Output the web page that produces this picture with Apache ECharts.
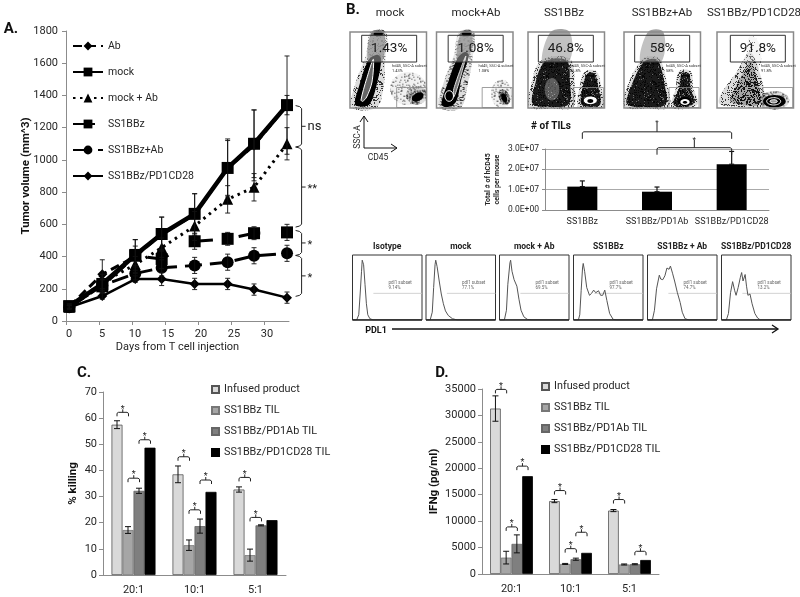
<!DOCTYPE html>
<html><head><meta charset="utf-8">
<style>html,body{margin:0;padding:0;background:#fff}#c{width:800px;height:597px}</style>
<script src="https://cdn.jsdelivr.net/npm/echarts@6/dist/echarts.min.js"></script>
</head><body><div id="c"></div>
<script>
// ---------- DATA ----------
const days = [0.5,5.5,10.5,14.5,19.5,24.5,28.5,33.5];
const volAb      = [90,290,400,540,660,950,1090,1340];
const errAb      = [10,90,105,105,130,180,220,60];
const volMock    = [92,230,410,540,665,950,1100,1340];
const errMock    = [15,60,95,105,125,170,210,305];
const volMockAb  = [85,240,350,455,590,755,830,1100];
const errMockAb  = [10,50,50,60,90,85,85,100];
const volBBz     = [90,215,405,385,495,510,545,550];
const errBBz     = [15,40,60,60,50,40,40,50];
const volBBzAb   = [85,220,295,330,345,365,405,420];
const errBBzAb   = [10,40,40,50,50,50,50,50];
const volCD28    = [85,155,260,260,230,230,195,145];
const errCD28    = [10,20,20,40,35,35,35,35];
const ratios = ['20:1','10:1','5:1'];
const barNames = ['Infused product','SS1BBz TIL','SS1BBz/PD1Ab TIL','SS1BBz/PD1CD28 TIL'];
const killInfused = [57.5,38.5,32.7], killInfusedErr = [1.5,3.2,1];
const killTil     = [17.2,11.4,7.6],  killTilErr     = [1.3,2,2.3];
const killAb      = [32.2,18.7,19],   killAbErr      = [1,2.7,0.2];
const killCD28    = [48.7,31.8,21],   killCD28Err    = [0,0,0];
const ifnInfused = [31300,13800,12000], ifnInfusedErr = [2400,300,200];
const ifnTil     = [3100,1900,1800],    ifnTilErr     = [1200,100,100];
const ifnAb      = [5700,2800,1850],    ifnAbErr      = [1700,200,100];
const ifnCD28    = [18500,4000,2650],   ifnCD28Err    = [0,0,0];
const tilCats = ['SS1BBz','SS1BBz/PD1Ab','SS1BBz/PD1CD28'];
const tilVals = [1.15e7,0.9e7,2.25e7];
const tilErrs = [0.28e7,0.23e7,0.63e7];
const flowTitles = ['mock','mock+Ab','SS1BBz','SS1BBz+Ab','SS1BBz/PD1CD28'];
const flowPct = ['1.43%','1.08%','46.8%','58%','91.8%'];
const histTitles = ['Isotype','mock','mock + Ab','SS1BBz','SS1BBz + Ab','SS1BBz/PD1CD28'];
const histPct = ['9.14%','77.1%','69.5%','97.7%','74.7%','13.2%'];
const histIso = [[0,0],[6,0],[9,8],[11,40],[13,75],[14,92],[16,85],[18,55],[20,25],[22,8],[25,2],[30,0],[100,0]];
const histMock = [[0,0],[6,0],[9,12],[11,50],[13,85],[14,92],[16,82],[19,60],[22,40],[25,25],[28,14],[32,7],[38,2],[45,0],[100,0]];
const histMockAb = [[0,0],[7,0],[10,15],[12,55],[15,88],[16,92],[18,75],[21,62],[25,52],[28,32],[31,15],[35,5],[40,1],[46,0],[100,0]];
const histBBz = [[0,0],[7,0],[9,8],[11,45],[13,80],[14,87],[16,75],[19,50],[23,38],[26,41],[29,46],[32,42],[34,41],[36,45],[39,38],[42,38],[45,46],[48,30],[52,10],[57,1],[62,0],[100,0]];
const histBBzAb = [[0,0],[7,0],[10,15],[13,48],[17,69],[19,63],[22,62],[25,68],[28,80],[30,82],[31,78],[33,83],[36,72],[39,60],[43,42],[47,27],[50,12],[54,2],[60,0],[100,0]];
const histCD28 = [[0,0],[7,0],[10,10],[13,42],[16,59],[19,45],[21,38],[24,50],[27,65],[29,73],[31,60],[34,70],[36,52],[38,38],[41,40],[44,25],[48,10],[52,3],[56,0],[100,0]];
const histGate = [[30,41],[100,41]];
// brackets: [category, fromBar, toBar, value of the feet]
const killBrackets = [[0,0,1,60.7],[0,1,2,35.5],[0,2,3,50.2],[1,0,1,43.7],[1,1,2,23.4],[1,2,3,34.8],[2,0,1,35.8],[2,1,2,20.5]];
const ifnBrackets = [[0,0,1,34170],[0,1,2,8150],[0,2,3,19650],[1,0,1,15030],[1,1,2,4040],[1,2,3,7140],[2,0,1,13330],[2,2,3,3540]];
const volBrackets = [[1337,1080,'ns'],[1080,583,'**'],[562,407,'*'],[407,153,'*']];
const tilBrackets = [[0,2,3.5e7],[1,2,2.72e7]];

// ---------- HELPERS ----------
const FF = 'Roboto';
const GREY = '#8c8c8c', INK = '#262626';
const plain = v => String(v);
const grid=[], xAxis=[], yAxis=[], series=[], graphic=[];
function addGrid(g,x,y){ grid.push(g); x.gridIndex=y.gridIndex=grid.length-1; xAxis.push(x); yAxis.push(y); return grid.length-1; }

function errSeries(gi,rows,bw,cap,w){
  series.push({type:'custom',xAxisIndex:gi,yAxisIndex:gi,silent:true,z:6,clip:false,data:rows,
    renderItem(p,api){
      const off=(api.value(1)-1.5)*(bw||0);
      const a=api.coord([api.value(0),api.value(2)]), b=api.coord([api.value(0),api.value(3)]);
      const x=a[0]+off, s={stroke:'#111',lineWidth:w||1,fill:null}, c=cap||3;
      return {type:'group',children:[
        {type:'line',shape:{x1:x,y1:a[1],x2:x,y2:b[1]},style:s},
        {type:'line',shape:{x1:x-c,y1:a[1],x2:x+c,y2:a[1]},style:s},
        {type:'line',shape:{x1:x-c,y1:b[1],x2:x+c,y2:b[1]},style:s}]};
    }});
}
function brace(x1,x2,y,h,starFs,stem){
  const m=(x1+x2)/2, st=stem||3;
  return [
   {type:'polyline',shape:{points:[[x1,y],[x1,y-h+1],[x1+1.5,y-h],[x2-1.5,y-h],[x2,y-h+1],[x2,y]]},style:{stroke:'#222',lineWidth:1,fill:null}},
   {type:'line',shape:{x1:m,y1:y-h,x2:m,y2:y-h-st},style:{stroke:'#222',lineWidth:1}},
   {type:'text',style:{text:'*',x:m,y:y-h-st,fill:'#222',font:(starFs||9)+'px '+FF,align:'center',verticalAlign:'middle'}}];
}
function bracketSeries(gi,rows,bw){
  series.push({type:'custom',xAxisIndex:gi,yAxisIndex:gi,silent:true,z:7,clip:false,data:rows,
    renderItem(p,api){
      const c=api.coord([api.value(0),api.value(3)]);
      return {type:'group',children:brace(c[0]+(api.value(1)-1.5)*bw,c[0]+(api.value(2)-1.5)*bw+0.5,c[1],4)};
    }});
}
function barPanel(left,top,w,h,ymax,step,yname,gap,bw,sets,errs,brs){
  const gi=addGrid({left,top,width:w,height:h},
   {type:'category',data:ratios,axisLine:{lineStyle:{color:GREY}},axisTick:{lineStyle:{color:GREY},length:4},axisLabel:{color:INK,fontFamily:FF,fontSize:11,margin:10}},
   {type:'value',min:0,max:ymax,interval:step,name:yname,nameLocation:'middle',nameGap:gap,nameMoveOverlap:false,nameTextStyle:{fontFamily:FF,fontWeight:'bold',fontSize:11.5,color:'#111'},
    splitLine:{show:false},axisLine:{show:true,lineStyle:{color:GREY}},axisTick:{show:true,lineStyle:{color:GREY},length:4},axisLabel:{color:INK,fontFamily:FF,fontSize:11,margin:6,formatter:plain}});
  const cols=['#d9d9d9','#a6a6a6','#7f7f7f','#000'], bord=['#555','#777','#666','#000'];
  sets.forEach((d,i)=>series.push({type:'bar',name:barNames[i],xAxisIndex:gi,yAxisIndex:gi,data:d,barWidth:bw,barGap:'0%',
    itemStyle:{color:cols[i],borderColor:bord[i],borderWidth:0.8}}));
  const rows=[];
  errs.forEach((e,i)=>e.forEach((v,c)=>{ if(v>0) rows.push([c,i,sets[i][c]-v,sets[i][c]+v]); }));
  errSeries(gi,rows,bw,3,1);
  bracketSeries(gi,brs,bw);
  return gi;
}
function T(x,y,text,fs,o){ o=o||{};
  graphic.push({type:'text',z:50,silent:true,rotation:o.rot||0,x,y,style:{text,x:0,y:0,fill:o.c||INK,font:(o.b?'bold ':'')+fs+'px '+FF,align:o.a||'center',verticalAlign:'middle',lineHeight:o.lh}});
}

// ---------- PANEL A ----------
const gA=addGrid({left:66,top:31,width:223,height:290},
  {type:'value',min:0,max:33.8,interval:5,name:'Days from T cell injection',nameLocation:'middle',nameGap:21,nameMoveOverlap:false,
   nameTextStyle:{fontFamily:FF,fontSize:11,color:INK},splitLine:{show:false},axisLine:{onZero:false,lineStyle:{color:GREY}},axisTick:{lineStyle:{color:GREY},length:4},
   axisLabel:{color:INK,fontFamily:FF,fontSize:11,margin:8,padding:[0,0,0,6],showMaxLabel:false}},
  {type:'value',min:0,max:1800,interval:200,name:'Tumor volume (mm^3)',nameLocation:'middle',nameGap:34,nameMoveOverlap:false,
   nameTextStyle:{fontFamily:FF,fontWeight:'bold',fontSize:11.5,color:'#111'},splitLine:{show:false},axisLine:{show:true,lineStyle:{color:GREY}},axisTick:{show:true,lineStyle:{color:GREY},length:4},
   axisLabel:{color:INK,fontFamily:FF,fontSize:11,margin:8,formatter:plain}});
const lineDefs=[
  ['Ab',volAb,errAb,'diamond',10,3,[9,5]],
  ['mock',volMock,errMock,'rect',12,4.5,'solid'],
  ['mock + Ab',volMockAb,errMockAb,'triangle',11,3,[2.5,4.5]],
  ['SS1BBz',volBBz,errBBz,'rect',12,3,[22,26]],
  ['SS1BBz+Ab',volBBzAb,errBBzAb,'circle',12,3,[17,8]],
  ['SS1BBz/PD1CD28',volCD28,errCD28,'diamond',10,2.5,'solid']];
lineDefs.forEach(d=>{
  series.push({type:'line',name:d[0],xAxisIndex:gA,yAxisIndex:gA,data:days.map((x,i)=>[x,d[1][i]]),symbol:d[3],symbolSize:d[4],showSymbol:true,z:4,
    lineStyle:{color:'#000',width:d[5],type:d[6]},itemStyle:{color:'#000'}});
  errSeries(gA,days.map((x,i)=>[x,1.5,d[1][i]-d[2][i],d[1][i]+d[2][i]]),0,2.5,0.9);
});
series.push({type:'custom',xAxisIndex:gA,yAxisIndex:gA,silent:true,clip:false,z:7,
  data:volBrackets.map(b=>[34.8,b[0],b[1],b[2]]),
  renderItem(p,api){
    const a=api.coord([api.value(0),api.value(1)]), b=api.coord([api.value(0),api.value(2)]);
    const x=a[0], m=(a[1]+b[1])/2, s={stroke:'#222',lineWidth:1,fill:null};
    const lab=volBrackets[p.dataIndex][2];
    return {type:'group',children:[
      {type:'polyline',shape:{points:[[x,a[1]],[x+4,a[1]+1],[x+6,a[1]+3],[x+6,b[1]-3],[x+4,b[1]-1],[x,b[1]]]},style:s},
      {type:'line',shape:{x1:x+6,y1:m,x2:x+10,y2:m},style:s},
      {type:'text',style:{text:lab,x:x+12,y:lab==='ns'?m:m+2,fill:'#222',font:(lab==='ns'?'13px ':'11px ')+FF,align:'left',verticalAlign:'middle'}}]};
  }});

// ---------- PANELS C, D ----------
barPanel(103,392,183,183,70,10,'% killing',24,11,[killInfused,killTil,killAb,killCD28],[killInfusedErr,killTilErr,killAbErr,killCD28Err],killBrackets);
barPanel(482,389,177,185,35000,5000,'IFNg (pg/ml)',42,10.7,[ifnInfused,ifnTil,ifnAb,ifnCD28],[ifnInfusedErr,ifnTilErr,ifnAbErr,ifnCD28Err],ifnBrackets);

// ---------- TIL BARS ----------
const gT=addGrid({left:545,top:149,width:224,height:61},
  {type:'category',data:tilCats,axisLine:{lineStyle:{color:GREY}},axisTick:{lineStyle:{color:GREY},length:3},axisLabel:{color:INK,fontFamily:FF,fontSize:9,margin:7,interval:0}},
  {type:'value',min:0,max:3e7,interval:1e7,name:'Total # of hCD45\ncells per mouse',nameLocation:'middle',nameGap:43,nameMoveOverlap:false,
   nameTextStyle:{fontFamily:FF,fontWeight:'bold',fontSize:7,color:INK,lineHeight:9},
   splitLine:{lineStyle:{color:'#aaa',width:1}},axisLine:{show:true,lineStyle:{color:GREY}},axisTick:{show:true,lineStyle:{color:GREY},length:3},
   axisLabel:{color:INK,fontFamily:FF,fontSize:8.5,margin:6,formatter:v=>v===0?'0.0E+00':(v/1e7).toFixed(1)+'E+07'}});
series.push({type:'bar',name:'TILs',xAxisIndex:gT,yAxisIndex:gT,data:tilVals,barWidth:30,itemStyle:{color:'#000'}});
errSeries(gT,tilVals.map((v,i)=>[i,1.5,v,v+tilErrs[i]]),0,2.5,1.2);
series.push({type:'custom',xAxisIndex:gT,yAxisIndex:gT,silent:true,clip:false,z:7,data:tilBrackets,
  renderItem(p,api){
    const a=api.coord([api.value(0),api.value(2)]), b=api.coord([api.value(1),api.value(2)]);
    return {type:'group',children:brace(a[0],b[0],a[1],7,8,p.dataIndex===0?9:8)};
  }});

// ---------- HISTOGRAMS ----------
const histBoxes=[352.5,426,499.5,573.5,647.5,721.5];
[histIso,histMock,histMockAb,histBBz,histBBzAb,histCD28].forEach((h,i)=>{
  const gi=addGrid({left:histBoxes[i],top:255,width:69.5,height:65,show:true,borderColor:'#333',borderWidth:1,backgroundColor:'#fff'},
    {type:'value',min:0,max:100,show:false},{type:'value',min:0,max:100,show:false});
  series.push({type:'line',xAxisIndex:gi,yAxisIndex:gi,data:histGate,symbol:'none',lineStyle:{color:'#c8c8c8',width:0.8},silent:true});
  series.push({type:'line',xAxisIndex:gi,yAxisIndex:gi,data:h,symbol:'none',lineStyle:{color:'#555',width:1},silent:true,z:4});
  series.push({type:'line',xAxisIndex:gi,yAxisIndex:gi,data:[[0,0],[100,0]],symbol:'none',lineStyle:{color:'#222',width:1.6},silent:true,z:5});
  T(histBoxes[i]+34.7,247,histTitles[i],8.5,{b:true,c:'#222'});
  T(histBoxes[i]+36,285.5,'pdl1 subset\n'+histPct[i],4.5,{a:'left',c:'#666',lh:5});
});

// ---------- FLOW PLOTS (drawn as shapes with a fine stipple fill) ----------
function speck(density){
  const S=97, c=document.createElement('canvas'); c.width=c.height=S;
  const x=c.getContext('2d'); let h=2463534242;
  x.fillStyle='rgba(0,0,0,'+(density*0.55)+')'; x.fillRect(0,0,S,S);
  x.fillStyle='rgba(0,0,0,0.75)';
  for(let j=0;j<S;j++) for(let i=0;i<S;i++){
    h^=h<<13; h^=h>>>17; h^=h<<5;
    if(((h>>>0)%1000)/1000<density) x.fillRect(i,j,1,1);
  }
  return {image:c,repeat:'repeat'};
}
const Z=12;
const P=(pts,fill)=>({type:'polygon',z:Z,shape:{points:pts.map(p=>[p[0]/3,p[1]/3]),smooth:0.35},style:{fill}});
const L=(pts,fill,stroke)=>({type:'polygon',z:Z,shape:{points:pts.map(p=>[p[0]/3,p[1]/3]),smooth:0.3},style:{fill,stroke,lineWidth:1}});
const E=(cx,cy,rx,ry,fill,stroke,rot)=>({type:'ellipse',z:Z,x:cx/3,y:cy/3,rotation:rot||0,shape:{cx:0,cy:0,rx:rx/3,ry:ry/3},style:{fill:fill||null,stroke:stroke||null,lineWidth:1}});
const s10=speck(.1), s25=speck(.25), s45=speck(.45), s85=speck(.85), s95=speck(.95);
const GC='rgba(90,90,90,0.8)', GD='rgba(110,110,110,0.65)';
const flowShapes=[
 [ P([[5,225],[18,150],[48,70],[62,0],[108,0],[105,90],[100,170],[78,228]],s25),
   P([[65,0],[102,0],[96,90],[55,90]],GC),
   P([[15,217],[28,160],[55,85],[80,68],[93,80],[82,150],[60,215],[35,224]],'#000'),
   E(85,5,14,8,'#000'),
   L([[33,204],[50,140],[70,82],[66,150],[50,195],[38,208]],'#666','#fff'),
   E(175,170,55,50,s10),
   E(200,190,32,28,s25),
   E(203,195,19,12,'#000',null,0.5) ],
 [ P([[8,225],[22,150],[52,70],[68,0],[112,0],[108,80],[95,150],[72,228]],s25),
   P([[75,0],[106,0],[97,75],[62,80]],GC),
   P([[15,215],[35,150],[62,80],[85,60],[97,70],[75,140],[58,210],[30,226]],'#000'),
   E(90,5,14,8,'#000'),
   L([[52,170],[88,72],[68,150],[52,195]],'#777','#ddd'),
   E(38,192,13,16,'#000','#fff'),
   E(195,185,32,42,s10),
   E(203,195,16,24,s45,null,0.4),
   E(203,198,8,14,'#000',null,0.4) ],
 [ P([[45,100],[68,0],[125,0],[122,90]],GD),
   P([[5,225],[8,165],[40,85],[125,80],[140,160],[136,225],[70,230]],s25),
   P([[15,217],[18,170],[50,90],[115,85],[126,150],[122,217],[70,224]],s95),
   E(72,172,22,34,'rgba(255,255,255,0.3)'),
   P([[150,225],[155,165],[172,118],[205,118],[220,165],[225,225],[190,230]],s25),
   P([[160,217],[163,170],[178,125],[200,125],[212,170],[217,217],[190,225]],s95),
   E(187,205,21,13,'#fff','#000'), E(187,207,9,6,'#000') ],
 [ P([[50,95],[72,0],[118,0],[112,90]],GD),
   P([[3,225],[6,175],[55,82],[105,80],[130,160],[135,225],[70,230]],s25),
   P([[10,217],[15,180],[60,90],[100,85],[122,160],[125,217],[70,226]],s95),
   P([[142,225],[155,170],[165,118],[200,118],[208,170],[222,215],[185,230]],s25),
   P([[148,217],[165,170],[172,125],[195,125],[200,170],[212,210],[185,226]],s85),
   E(183,208,19,14,'#000'),
   E(183,210,14,9,'#fff'), E(183,211,7,4,'#000') ],
 [ P([[90,70],[100,10],[130,40],[125,110]],s10),
   P([[5,210],[65,110],[98,60],[125,110],[140,218],[70,225]],s25),
   P([[40,205],[75,130],[100,90],[118,130],[128,215],[70,218]],s45),
   E(172,205,45,28,s25),
   E(172,208,34,19,'#000'),
   E(170,208,21,11,null,'#fff'), E(170,208,11,5,'#999','#fff') ]
];
const flowLeft=[350,436.5,528,624,717], flowGate=[[35,140],[35,137],[31,136],[32,135],[40,137]];
const flowTitleX=[390,476,564,662,754];
flowLeft.forEach((x,i)=>{
  const W=76.5, g=flowGate[i];
  T(flowTitleX[i],13,flowTitles[i],11.5);
  graphic.push({type:'group',x,y:32,silent:true,children:flowShapes[i]});
  graphic.push({type:'rect',x,y:32,silent:true,z:20,shape:{x:0,y:0,width:W,height:76},style:{fill:null,stroke:'#8a8a8a',lineWidth:1.5}});
  graphic.push({type:'rect',x:x+g[0]/3,y:35.3,silent:true,z:21,shape:{x:0,y:0,width:55,height:26.7},style:{fill:'rgba(255,255,255,0.35)',stroke:'#333',lineWidth:1}});
  graphic.push({type:'rect',x:x+g[1]/3,y:87.5,silent:true,z:21,shape:{x:0,y:0,width:30,height:20},style:{fill:null,stroke:'#888',lineWidth:0.8}});
  T(x+g[0]/3+27.5,49,flowPct[i],13.5,{c:'#1a1a1a'});
  T(x+(i===4?44:42),68,'hd45, SSC-A subset\n'+flowPct[i],4,{a:'left',c:'#333',lh:5});
});

// ---------- ANNOTATION ----------
const arrow=(pts,c,w)=>graphic.push({type:'polyline',silent:true,z:22,shape:{points:pts},style:{stroke:c||'#111',lineWidth:w||1,fill:null}});
arrow([[364,116],[364,148],[397,148]]); arrow([[360,122],[364,116],[368,122]]); arrow([[391,144],[397,148],[391,152]]);
arrow([[392,329],[777,329]],'#111',1.3); arrow([[772,325],[778,329],[772,333]],'#111',1.3);
T(11,29,'A.',15,{b:true,c:'#111'});
T(353,10,'B.',15,{b:true,c:'#111'});
T(84,373,'C.',15,{b:true,c:'#111'});
T(442,373,'D.',15,{b:true,c:'#111'});
T(358,137,'SSC-A',8.5,{rot:Math.PI/2});
T(378,158,'CD45',8.5);
T(551,126,'# of TILs',10,{b:true,c:'#111'});
T(376,331,'PDL1',9,{b:true,c:'#111'});

const chart=echarts.init(document.getElementById('c'),null,{renderer:'canvas'});
chart.setOption({
  animation:false,backgroundColor:'#fff',textStyle:{fontFamily:FF},
  grid,xAxis,yAxis,series,graphic,
  legend:[
   {data:lineDefs.map(d=>d[0]),left:72,top:40.5,padding:0,orient:'vertical',itemWidth:30,itemHeight:11,itemGap:15,selectedMode:false,
    textStyle:{fontFamily:FF,fontSize:10.5,color:INK}},
   {data:barNames,left:211,top:384,padding:0,orient:'vertical',itemWidth:7,itemHeight:7,itemGap:10,selectedMode:false,icon:'rect',
    textStyle:{fontFamily:FF,fontSize:10.8,color:INK}},
   {data:barNames,left:541,top:381,padding:0,orient:'vertical',itemWidth:7,itemHeight:7,itemGap:10,selectedMode:false,icon:'rect',
    textStyle:{fontFamily:FF,fontSize:10.8,color:INK}}
  ]
});
</script></body></html>
